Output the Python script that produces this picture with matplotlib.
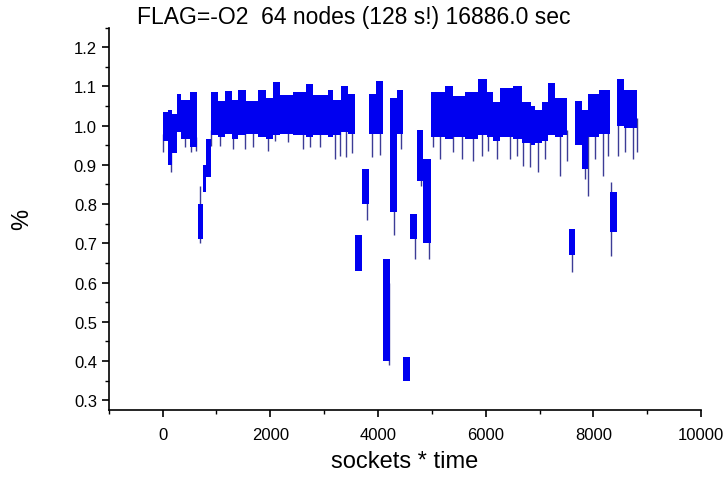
import numpy as np
import matplotlib
matplotlib.use('Agg')
import matplotlib.pyplot as plt
from matplotlib.ticker import MultipleLocator, FormatStrFormatter

plt.rcParams['font.family'] = ['Liberation Sans', 'DejaVu Sans']

blk_x0 = [0, 100, 170, 260, 350, 500, 650, 745, 800,
          890, 1030, 1150, 1280, 1400, 1556, 1772, 1915, 2051, 2175, 2422, 2671, 2794, 3073, 3166, 3322, 3445,
          3570, 3700, 3830, 3960, 4090, 4220, 4350, 4470, 4590, 4720, 4840,
          4980, 5240, 5400, 5610, 5860, 6020, 6140, 6265, 6510, 6670, 6850, 6915, 7040, 7160, 7290, 7440,
          7540, 7660, 7790, 7900, 8100, 8310, 8440, 8560]
blk_x1 = [100, 170, 260, 350, 500, 630, 745, 800, 890,
          1030, 1150, 1280, 1400, 1556, 1772, 1915, 2051, 2175, 2422, 2671, 2794, 3073, 3166, 3322, 3445, 3570,
          3700, 3830, 3960, 4090, 4220, 4350, 4470, 4590, 4720, 4840, 4980,
          5240, 5400, 5610, 5860, 6020, 6140, 6265, 6510, 6670, 6850, 6915, 7040, 7160, 7290, 7440, 7510,
          7660, 7790, 7900, 8100, 8310, 8440, 8560, 8810]
blk_top = [1.035, 1.04, 1.03, 1.08, 1.065, 1.085, 0.80, 0.90, 0.965,
           1.086, 1.064, 1.089, 1.066, 1.09, 1.063, 1.09, 1.07, 1.112, 1.077, 1.085, 1.105, 1.078, 1.09, 1.065, 1.10, 1.08,
           0.72, 0.89, 1.08, 1.114, 0.66, 1.07, 1.09, 0.41, 0.775, 0.99, 0.915,
           1.085, 1.10, 1.075, 1.085, 1.12, 1.085, 1.06, 1.095, 1.10, 1.06, 1.05, 1.04, 1.06, 1.11, 1.07, 1.07,
           0.736, 1.064, 1.04, 1.08, 1.09, 0.83, 1.12, 1.09]
blk_bot = [0.96, 0.90, 0.93, 0.985, 0.965, 0.945, 0.71, 0.83, 0.87,
           0.975, 0.97, 0.98, 0.965, 0.975, 0.98, 0.97, 0.965, 0.975, 0.98, 0.975, 0.97, 0.975, 0.97, 0.975, 0.985, 0.98,
           0.63, 0.80, 0.98, 0.98, 0.40, 0.78, 0.98, 0.35, 0.71, 0.86, 0.70,
           0.97, 0.965, 0.97, 0.965, 0.975, 0.97, 0.96, 0.97, 0.965, 0.955, 0.95, 0.955, 0.96, 0.975, 0.97, 0.975,
           0.67, 0.95, 0.89, 0.97, 0.98, 0.73, 1.0, 0.995]

# thin excursions outside the band
spk_x = [6, 161, 420, 533, 626, 700,
         905, 1060, 1307, 1524, 1679, 1958, 2082, 2330, 2608, 2733, 2919, 3197, 3290, 3400, 3520,
         3800, 3880, 4030, 4200, 4300, 4420, 4680, 4800, 4950,
         5025, 5149, 5397, 5552, 5769, 5924, 6048, 6203, 6451, 6575, 6699, 6823, 6978, 7101, 7380, 7504,
         7600, 7845, 7907, 8031, 8185, 8278, 8330, 8464, 8589, 8743, 8806]
spk_lo = [0.932, 0.881, 0.945, 0.932, 0.936, 0.70,
          0.949, 0.949, 0.94, 0.94, 0.945, 0.936, 0.962, 0.958, 0.94, 0.945, 0.945, 0.915, 0.923, 0.92, 0.93,
          0.76, 0.92, 0.925, 0.39, 0.72, 0.94, 0.66, 0.846, 0.66,
          0.945, 0.915, 0.932, 0.915, 0.911, 0.923, 0.936, 0.915, 0.915, 0.923, 0.898, 0.894, 0.881, 0.915, 0.872, 0.911,
          0.627, 0.864, 0.821, 0.915, 0.872, 0.923, 0.668, 0.923, 0.932, 0.915, 0.932]
spk_hi = [0.98, 0.95, 0.98, 0.97, 0.97, 0.845,
          0.99, 0.99, 0.99, 0.99, 0.99, 0.99, 0.99, 0.99, 0.99, 0.99, 0.99, 0.99, 0.99, 0.99, 0.99,
          0.85, 1.0, 1.0, 0.6, 0.9, 1.0, 0.75, 0.95, 0.8,
          0.99, 0.99, 0.99, 0.99, 0.99, 0.99, 0.99, 0.99, 0.99, 0.99, 0.99, 0.99, 0.99, 0.99, 0.99, 0.99,
          0.70, 0.99, 0.99, 0.99, 0.99, 0.99, 0.856, 1.02, 1.02, 1.02, 1.02]

fig = plt.figure(figsize=(7.25, 4.81), dpi=100)
ax = fig.add_axes([0.150, 0.1455, 0.817, 0.795])

blue = '#0000f0'
ax.vlines(spk_x, spk_lo, spk_hi, colors='#3c3c96', linewidth=1.0, zorder=1)
x0 = np.array(blk_x0)
x1 = np.array(blk_x1)
top = np.array(blk_top)
bot = np.array(blk_bot)
ax.bar(x0, top - bot, width=x1 - x0, bottom=bot, align='edge',
       color=blue, linewidth=0, zorder=2)

ax.set_xlim(-1000, 10000)
ax.set_ylim(0.275, 1.25)
ax.xaxis.set_minor_locator(MultipleLocator(1000))
ax.yaxis.set_minor_locator(MultipleLocator(0.05))
ax.set_xticks([0, 2000, 4000, 6000, 8000, 10000])
ax.set_yticks([0.3, 0.4, 0.5, 0.6, 0.7, 0.8, 0.9, 1.0, 1.1, 1.2])
ax.yaxis.set_major_formatter(FormatStrFormatter('%.1f'))

for s in ['top', 'right']:
    ax.spines[s].set_visible(False)
for s in ['left', 'bottom']:
    ax.spines[s].set_linewidth(1.2)
ax.tick_params(which='major', direction='out', length=5, width=1.2, labelsize=12)
ax.tick_params(axis='x', which='major', pad=7)
ax.tick_params(which='minor', direction='out', length=3, width=1.0)

ax.set_xlabel('sockets * time', fontsize=17)
ax.xaxis.set_label_coords(0.5, -0.105)
ax.set_ylabel('%', fontsize=17)
ax.yaxis.set_label_coords(-0.128, 0.5)

fig.text(0.488, 0.963, 'FLAG=-O2  64 nodes (128 s!) 16886.0 sec',
         ha='center', va='center', fontsize=16.5)

fig.savefig('out.png', dpi=100)
